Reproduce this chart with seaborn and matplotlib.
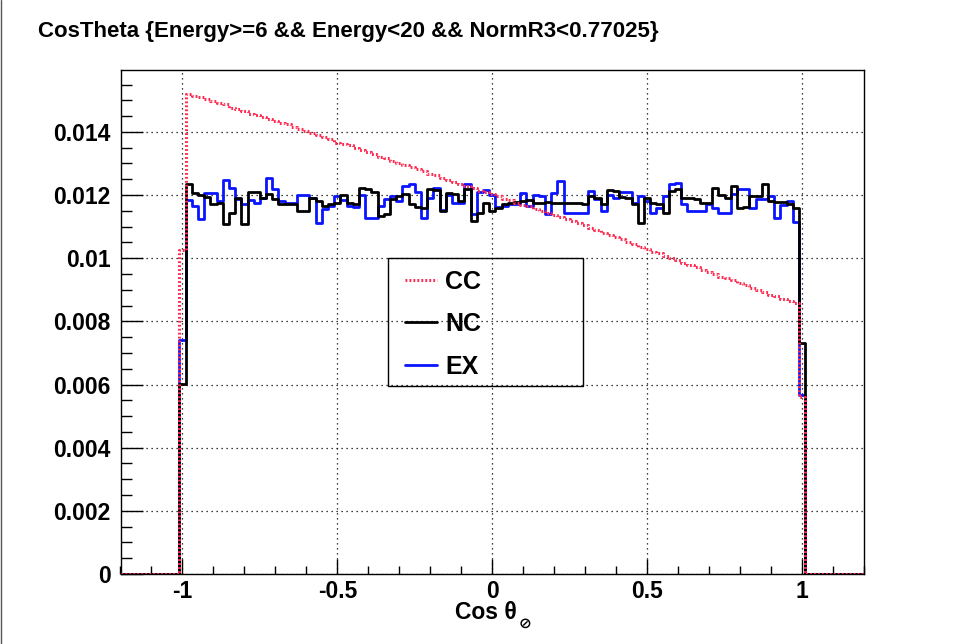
import numpy as np
import pandas as pd
import matplotlib
matplotlib.use("Agg")
import matplotlib.pyplot as plt
from matplotlib.lines import Line2D
from matplotlib.patches import Rectangle
from matplotlib.ticker import FixedLocator, MultipleLocator
import seaborn as sns

# ---- data: normalised cos(theta_sun) distributions, bin width 0.02 ----
# edge bins [-1.01,-0.99] and [0.99,1.01] are only partly populated
cc_edge = [0.01025, 0.00560]
nc_edge = [0.00603, 0.00730]
ex_edge = [0.00740, 0.00566]

cc_values = [
    0.01521, 0.01515, 0.01512, 0.01503, 0.01498, 0.01490, 0.01487, 0.01476, 0.01473, 0.01466,
    0.01458, 0.01455, 0.01448, 0.01440, 0.01436, 0.01428, 0.01424, 0.01414, 0.01410, 0.01404,
    0.01396, 0.01391, 0.01383, 0.01378, 0.01366, 0.01362, 0.01357, 0.01348, 0.01344, 0.01337,
    0.01330, 0.01322, 0.01318, 0.01308, 0.01302, 0.01294, 0.01288, 0.01281, 0.01276, 0.01266,
    0.01262, 0.01255, 0.01247, 0.01241, 0.01236, 0.01228, 0.01222, 0.01214, 0.01210, 0.01203,
    0.01196, 0.01188, 0.01183, 0.01175, 0.01168, 0.01164, 0.01155, 0.01150, 0.01142, 0.01136,
    0.01130, 0.01124, 0.01118, 0.01112, 0.01105, 0.01095, 0.01090, 0.01080, 0.01074, 0.01066,
    0.01060, 0.01050, 0.01045, 0.01035, 0.01028, 0.01020, 0.01015, 0.01006, 0.01000, 0.00993,
    0.00985, 0.00978, 0.00972, 0.00963, 0.00957, 0.00950, 0.00942, 0.00936, 0.00930, 0.00921,
    0.00915, 0.00907, 0.00900, 0.00894, 0.00885, 0.00880, 0.00872, 0.00864, 0.00857,
]

nc_values = [
    0.01234, 0.01207, 0.01200, 0.01194, 0.01171, 0.01174, 0.01107, 0.01144, 0.01192, 0.01107,
    0.01211, 0.01211, 0.01192, 0.01202, 0.01186, 0.01171, 0.01173, 0.01171, 0.01150, 0.01150,
    0.01192, 0.01181, 0.01165, 0.01171, 0.01176, 0.01200, 0.01176, 0.01171, 0.01221, 0.01218,
    0.01211, 0.01134, 0.01139, 0.01186, 0.01197, 0.01204, 0.01171, 0.01162, 0.01160, 0.01218,
    0.01215, 0.01150, 0.01207, 0.01204, 0.01181, 0.01218, 0.01118, 0.01144, 0.01176, 0.01150,
    0.01160, 0.01171, 0.01176, 0.01179, 0.01181, 0.01183, 0.01176, 0.01176, 0.01178, 0.01176,
    0.01176, 0.01175, 0.01176, 0.01176, 0.01171, 0.01197, 0.01192, 0.01171, 0.01215, 0.01213,
    0.01194, 0.01192, 0.01171, 0.01113, 0.01192, 0.01176, 0.01171, 0.01144, 0.01213, 0.01218,
    0.01192, 0.01190, 0.01186, 0.01176, 0.01176, 0.01223, 0.01200, 0.01192, 0.01228, 0.01160,
    0.01162, 0.01197, 0.01197, 0.01234, 0.01181, 0.01179, 0.01179, 0.01171, 0.01158,
]

ex_values = [
    0.01183, 0.01165, 0.01123, 0.01207, 0.01207, 0.01181, 0.01249, 0.01223, 0.01186, 0.01171,
    0.01183, 0.01176, 0.01192, 0.01255, 0.01218, 0.01181, 0.01176, 0.01176, 0.01200, 0.01200,
    0.01192, 0.01113, 0.01155, 0.01165, 0.01197, 0.01183, 0.01165, 0.01162, 0.01200, 0.01128,
    0.01128, 0.01165, 0.01186, 0.01197, 0.01181, 0.01228, 0.01234, 0.01211, 0.01128, 0.01192,
    0.01223, 0.01152, 0.01200, 0.01176, 0.01176, 0.01234, 0.01139, 0.01211, 0.01215, 0.01200,
    0.01162, 0.01165, 0.01171, 0.01171, 0.01207, 0.01165, 0.01200, 0.01197, 0.01139, 0.01207,
    0.01244, 0.01144, 0.01144, 0.01144, 0.01144, 0.01213, 0.01186, 0.01150, 0.01200, 0.01192,
    0.01211, 0.01211, 0.01176, 0.01197, 0.01181, 0.01144, 0.01160, 0.01197, 0.01234, 0.01239,
    0.01171, 0.01150, 0.01150, 0.01150, 0.01171, 0.01160, 0.01144, 0.01144, 0.01202, 0.01218,
    0.01218, 0.01160, 0.01186, 0.01186, 0.01197, 0.01128, 0.01170, 0.01180, 0.01116,
]

series_names = ["CC", "NC", "EX"]
x_ticks = [-1, -0.5, 0, 0.5, 1]
x_tick_labels = ["-1", "-0.5", "0", "0.5", "1"]
y_ticks = [0, 0.002, 0.004, 0.006, 0.008, 0.010, 0.012, 0.014]
y_tick_labels = ["0", "0.002", "0.004", "0.006", "0.008", "0.01", "0.012", "0.014"]
title_text = "CosTheta {Energy>=6 && Energy<20 && NormR3<0.77025}"

# histogram binning: empty underflow/overflow regions around [-1.01, 1.01]
x_min, x_max = -1.2, 1.2
inner_edges = np.linspace(-1.01, 1.01, 102)
edges = np.concatenate([[x_min], inner_edges, [x_max]])
centers = 0.5 * (edges[:-1] + edges[1:])
bin_edges = [float(e) for e in edges]


def full_hist(edge_pair, body):
    return [0.0, edge_pair[0]] + list(body) + [edge_pair[1], 0.0]


frames = []
for name, edge_pair, body in [("CC", cc_edge, cc_values),
                              ("NC", nc_edge, nc_values),
                              ("EX", ex_edge, ex_values)]:
    frames.append(pd.DataFrame({"cos": centers,
                                "weight": full_hist(edge_pair, body),
                                "sample": name}))
df = pd.concat(frames, ignore_index=True)

# ---- styling ----
sns.set_style("white")
plt.rcParams["font.family"] = ["Liberation Sans", "DejaVu Sans"]
plt.rcParams["font.weight"] = "bold"
for key in ["text.color", "axes.labelcolor", "xtick.color", "ytick.color",
            "xtick.labelcolor", "ytick.labelcolor"]:
    plt.rcParams[key] = "black"

fig = plt.figure(figsize=(9.58, 6.44), dpi=100)
ax = fig.add_axes([120.5 / 958, 1 - 574 / 644, 743.5 / 958, 504 / 644])

red = "#ff2a50"
styles = {
    "EX": dict(color="#0a14ff", linewidth=2.0, linestyle="-", zorder=3),
    "NC": dict(color="black", linewidth=2.0, linestyle="-", zorder=4),
    "CC": dict(color=red, linewidth=2.2, linestyle=(0, (0.6, 0.7)), zorder=5),
}
for name in ["EX", "NC", "CC"]:
    sub = df[df["sample"] == name]
    sns.histplot(data=sub, x="cos", weights="weight", bins=bin_edges,
                 element="step", fill=False, ax=ax, **styles[name])

ax.set_xlim(x_min, x_max)
ax.set_ylim(0, 0.01596)
ax.set_xlabel("")
ax.set_ylabel("")

ax.xaxis.set_major_locator(FixedLocator(x_ticks))
ax.set_xticklabels(x_tick_labels)
ax.xaxis.set_minor_locator(MultipleLocator(0.1))
ax.yaxis.set_major_locator(FixedLocator(y_ticks))
ax.set_yticklabels(y_tick_labels)
ax.yaxis.set_minor_locator(MultipleLocator(0.0005))

ax.tick_params(axis="x", which="major", direction="in", length=11, width=1,
               labelsize=16.5, pad=4, bottom=True, top=False, colors="black")
ax.tick_params(axis="x", which="minor", direction="in", length=5.5, width=1,
               bottom=True, top=False, colors="black")
ax.tick_params(axis="y", which="major", direction="in", length=16, width=1,
               labelsize=16.5, pad=7, left=True, right=False, colors="black")
ax.tick_params(axis="y", which="minor", direction="in", length=8, width=1,
               left=True, right=False, colors="black")
for lab in ax.get_xticklabels() + ax.get_yticklabels():
    lab.set_fontweight("bold")

ax.grid(True, which="major", color="black", linestyle=(0, (1, 3)), linewidth=0.9)
ax.set_axisbelow(True)
for sp in ax.spines.values():
    sp.set_color("black")
    sp.set_linewidth(1.0)

# legend frame and entries
ax.add_patch(Rectangle((0.3598, 0.373), 0.2623, 0.254, transform=ax.transAxes,
                       fill=False, edgecolor="black", linewidth=1.0, zorder=6))
handles = [
    Line2D([], [], color=red, linewidth=2.2, linestyle=(0, (0.6, 0.7))),
    Line2D([], [], color="black", linewidth=2.0),
    Line2D([], [], color="#0a14ff", linewidth=2.0),
]
leg = ax.legend(handles, series_names, loc="upper left",
                bbox_to_anchor=(0.3827, 0.604), frameon=False,
                prop={"family": ["Liberation Sans"], "weight": "bold", "size": 18},
                handlelength=1.28, handletextpad=0.32, labelspacing=0.74,
                borderpad=0, borderaxespad=0, labelcolor="black")
leg.set_zorder(7)

# titles and axis label
fig.text(38 / 958, 1 - 32 / 644, title_text, ha="left", va="center",
         fontsize=16, fontweight="bold", color="black")
fig.text(455 / 958, 1 - 619 / 644, "Cos θ", ha="left", va="baseline",
         fontsize=16.5, fontweight="bold", color="black")
fig.text(519 / 958, 1 - 628 / 644, "⊘", ha="left", va="baseline",
         fontsize=11, fontweight="bold", family=["DejaVu Sans"], color="black")

# thin canvas border on the left edge
fig.add_artist(Line2D([0.001, 0.001], [0, 1], transform=fig.transFigure,
                      color="#555555", linewidth=1.0))

fig.savefig("out.png", dpi=100)
